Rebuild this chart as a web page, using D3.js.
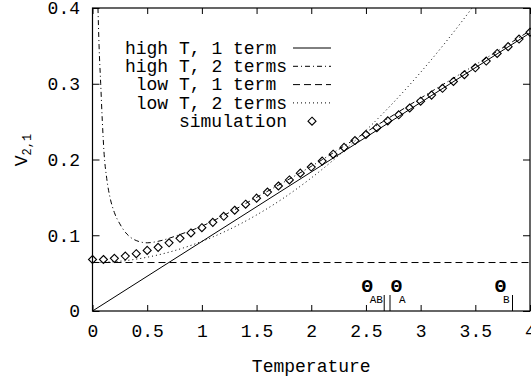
<!DOCTYPE html>
<html>
<head>
<meta charset="utf-8">
<script src="https://cdn.jsdelivr.net/npm/d3@7"></script>
<style>
  html, body { margin: 0; padding: 0; background: #fff; overflow: hidden; }
  svg { display: block; }
  text { font-family: "Liberation Mono", "DejaVu Sans Mono", monospace; fill: #000; }
</style>
</head>
<body>
<svg id="svg" width="531" height="379"></svg>
<script>
// ---- data ----
const xTicks = [0, 0.5, 1, 1.5, 2, 2.5, 3, 3.5, 4];
const xTickLabels = ["0", "0.5", "1", "1.5", "2", "2.5", "3", "3.5", "4"];
const yTicks = [0, 0.1, 0.2, 0.3, 0.4];
const yTickLabels = ["0", "0.1", "0.2", "0.3", "0.4"];

// high T, 1 term (straight line)
const highT1 = [[0, 0], [4, 0.367]];
// high T, 2 terms
const highT2 = [[0.05, 0.40], [0.06, 0.35], [0.075, 0.30], [0.09, 0.25], [0.105, 0.21], [0.13, 0.175],
  [0.16, 0.15], [0.2, 0.13], [0.25, 0.115], [0.3, 0.104], [0.35, 0.097], [0.4, 0.093], [0.5, 0.090],
  [0.6, 0.092], [0.7, 0.096], [0.8, 0.101], [1.0, 0.112], [1.25, 0.130], [1.5, 0.150], [2.0, 0.191],
  [2.5, 0.236], [3.0, 0.281], [3.5, 0.325], [4.0, 0.370]];
// low T, 1 term (constant)
const lowT1 = [[0, 0.064], [4, 0.064]];
// low T, 2 terms
const lowT2 = [[0, 0.064], [0.25, 0.0657], [0.5, 0.071], [0.75, 0.0797], [1, 0.0919], [1.25, 0.1076],
  [1.5, 0.1268], [1.75, 0.1494], [2, 0.1756], [2.25, 0.2052], [2.5, 0.2384], [2.75, 0.275],
  [3, 0.3151], [3.25, 0.3587], [3.45, 0.3961], [3.5, 0.4058]];
// simulation, T = 0 .. 4 step 0.1
const simT = [0, 0.1, 0.2, 0.3, 0.4, 0.5, 0.6, 0.7, 0.8, 0.9, 1.0, 1.1, 1.2, 1.3, 1.4, 1.5, 1.6, 1.7, 1.8, 1.9,
  2.0, 2.1, 2.2, 2.3, 2.4, 2.5, 2.6, 2.7, 2.8, 2.9, 3.0, 3.1, 3.2, 3.3, 3.4, 3.5, 3.6, 3.7, 3.8, 3.9, 4.0];
const simV = [0.068, 0.068, 0.0695, 0.0725, 0.0757, 0.080, 0.084, 0.090, 0.096, 0.103, 0.110, 0.117, 0.125,
  0.133, 0.141, 0.149, 0.157, 0.165, 0.173, 0.182, 0.190, 0.198, 0.207, 0.216, 0.225, 0.233, 0.242, 0.251,
  0.259, 0.268, 0.277, 0.285, 0.294, 0.303, 0.312, 0.321, 0.330, 0.340, 0.349, 0.359, 0.368];

const legendLabels = ["high T, 1 term ", "high T, 2 terms", "low T, 1 term ", "low T, 2 terms", "simulation"];
const thetaNames = ["AB", "A", "B"];
const thetaT = [2.667, 2.72, 3.84];

// ---- layout ----
const svg = d3.select("#svg");
const mLeft = 92.5, mRight = 530, mTop = 8, mBottom = 311;
const x = d3.scaleLinear().domain([0, 4]).range([mLeft, mRight]);
const y = d3.scaleLinear().domain([0, 0.4]).range([mBottom, mTop]);
const FS = 18;

svg.append("defs").append("clipPath").attr("id", "clip")
  .append("rect").attr("x", mLeft).attr("y", mTop).attr("width", mRight - mLeft).attr("height", mBottom - mTop);

// axes, ticks pointing inwards
svg.append("g").attr("transform", `translate(0,${mBottom})`)
  .call(d3.axisBottom(x).tickValues(xTicks).tickFormat((d, i) => xTickLabels[i]).tickSize(-6).tickPadding(13));
svg.append("g").attr("transform", `translate(${mLeft},0)`)
  .call(d3.axisLeft(y).tickValues(yTicks).tickFormat((d, i) => yTickLabels[i]).tickSize(-7).tickPadding(12.5));
svg.append("g").attr("transform", `translate(0,${mTop})`)
  .call(d3.axisTop(x).tickValues(xTicks).tickFormat("").tickSize(-6));
svg.append("g").attr("transform", `translate(${mRight},0)`)
  .call(d3.axisRight(y).tickValues(yTicks).tickFormat("").tickSize(-7));
svg.selectAll(".domain").remove();
svg.selectAll(".tick line").attr("stroke", "#000").attr("stroke-width", 1);
svg.selectAll(".tick text").attr("font-family", "Liberation Mono").attr("font-size", FS).attr("fill", "#000");

svg.append("rect").attr("x", mLeft).attr("y", mTop).attr("width", mRight - mLeft).attr("height", mBottom - mTop)
  .attr("fill", "none").attr("stroke", "#000").attr("stroke-width", 1.2);

// axis titles
svg.append("text").attr("x", (mLeft + mRight) / 2).attr("y", 372).attr("text-anchor", "middle")
  .attr("font-size", FS).text("Temperature");
const yl = svg.append("text").attr("transform", "translate(27,150) rotate(-90)")
  .attr("text-anchor", "middle").attr("font-size", FS);
yl.append("tspan").text("V");
yl.append("tspan").attr("font-size", 12).attr("dy", 4).text("2,1");

// curves
const line = d3.line().x(d => x(d[0])).y(d => y(d[1])).curve(d3.curveMonotoneX);
const curves = [
  { data: highT1, dash: null },
  { data: highT2, dash: "5,3,1,3" },
  { data: lowT1, dash: "7,4" },
  { data: lowT2, dash: "1,3" }
];
const plot = svg.append("g").attr("clip-path", "url(#clip)");
curves.forEach(c => {
  plot.append("path").attr("d", line(c.data)).attr("fill", "none")
    .attr("stroke", "#000").attr("stroke-width", 1).attr("stroke-dasharray", c.dash);
});

// simulation diamonds
const diamond = (cx, cy, r) => `M${cx},${cy - r}L${cx + r},${cy}L${cx},${cy + r}L${cx - r},${cy}Z`;
svg.append("g").selectAll("path").data(simT).join("path")
  .attr("d", (d, i) => diamond(x(d), y(simV[i]), 4))
  .attr("fill", "none").attr("stroke", "#000").attr("stroke-width", 1.1);

// legend
const lg = svg.append("g");
legendLabels.forEach((t, i) => {
  const ly = 48 + i * 18.3;
  lg.append("text").attr("x", 287).attr("y", ly).attr("dy", "0.32em").attr("text-anchor", "end")
    .attr("font-size", FS).style("white-space", "pre").text(t);
  if (i < 4) {
    lg.append("line").attr("x1", 293).attr("x2", 331).attr("y1", ly).attr("y2", ly)
      .attr("stroke", "#000").attr("stroke-width", 1).attr("stroke-dasharray", curves[i].dash);
  } else {
    lg.append("path").attr("d", diamond(312, ly, 4)).attr("fill", "none").attr("stroke", "#000").attr("stroke-width", 1.1);
  }
});

// theta markers
const thetaDx = [-17, 6.5, -12];
thetaT.forEach((t, i) => {
  const px = x(t);
  svg.append("line").attr("x1", px).attr("x2", px).attr("y1", 295).attr("y2", mBottom)
    .attr("stroke", "#000").attr("stroke-width", 1);
  svg.append("text").attr("x", px + thetaDx[i]).attr("y", 292)
    .attr("text-anchor", "middle").attr("font-family", "Liberation Serif").attr("font-weight", "bold")
    .attr("font-size", 19).text("\u0398");
  svg.append("text").attr("x", px + thetaDx[i] + 2.5).attr("y", 303)
    .attr("font-family", "Liberation Serif").attr("font-size", 11).text(thetaNames[i]);
});
</script>
</body>
</html>
